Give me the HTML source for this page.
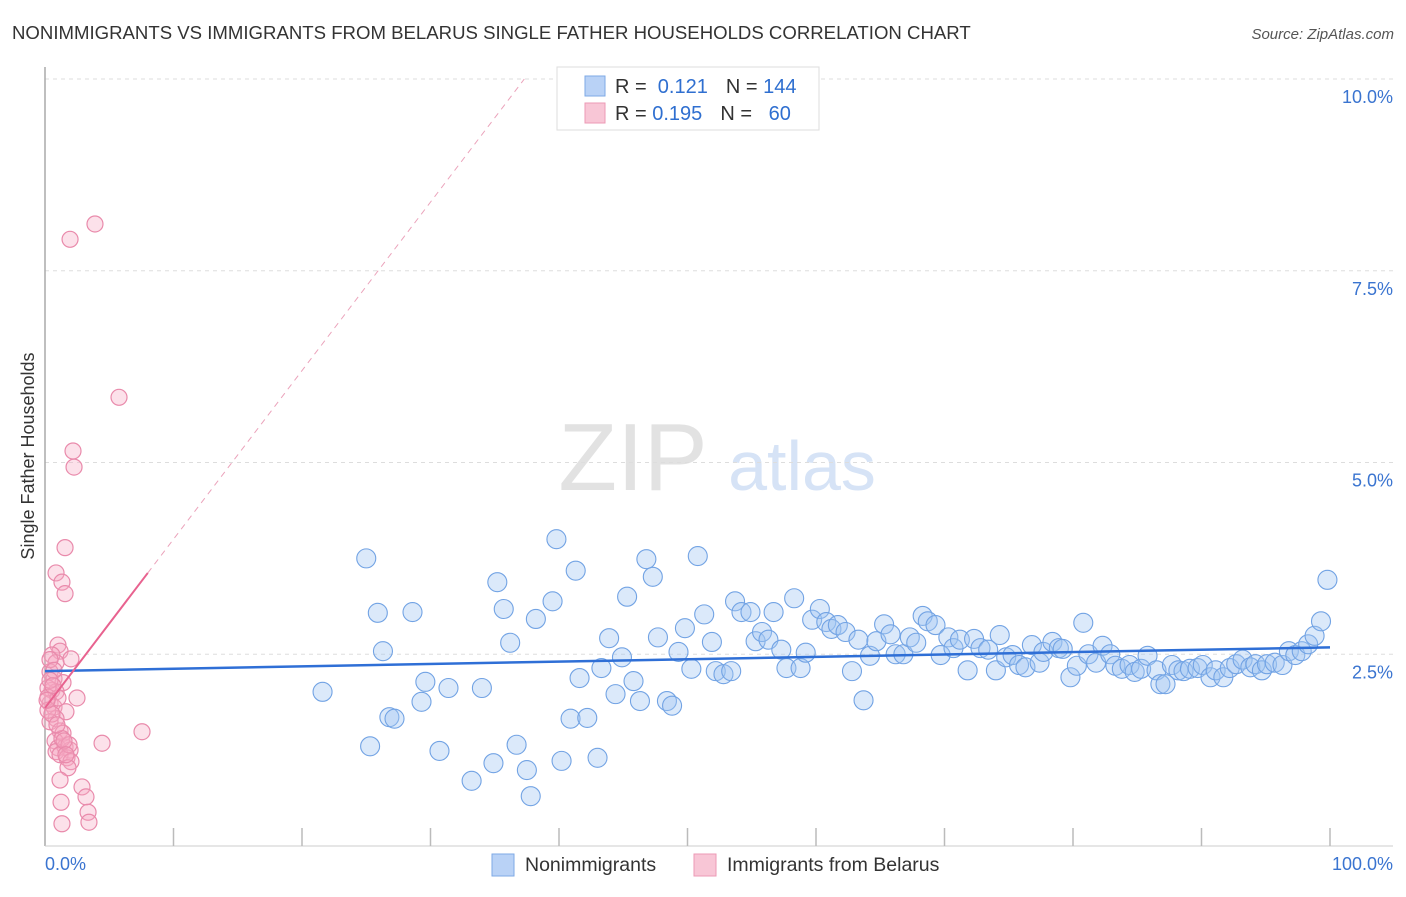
<!DOCTYPE html>
<html><head><meta charset="utf-8"><style>
body{margin:0;background:#fff;font-family:"Liberation Sans",sans-serif;}
svg text{font-family:"Liberation Sans",sans-serif;}
</style></head><body>
<svg id="chart" width="1406" height="892" xmlns="http://www.w3.org/2000/svg">
<text x="12" y="39" font-size="18.6" fill="#333">NONIMMIGRANTS VS IMMIGRANTS FROM BELARUS SINGLE FATHER HOUSEHOLDS CORRELATION CHART</text>
<text x="1394" y="39" font-size="15" fill="#555" text-anchor="end" font-style="italic">Source: ZipAtlas.com</text>
<text transform="translate(34,456) rotate(-90)" font-size="18" fill="#333" text-anchor="middle">Single Father Households</text>
<g>
<text x="633" y="490" font-size="96" font-family="Liberation Serif" fill="#e2e2e2" text-anchor="middle">ZIP</text>
<text x="802" y="490" font-size="70" fill="#d6e3f6" text-anchor="middle">atlas</text>
</g>
<g id="grid"></g>
<g id="axes"></g>
<g id="pts"></g>
<g id="trends"></g>
<g>
<rect x="557" y="67" width="262" height="63" fill="#fff" stroke="#ddd"/>
<rect x="585" y="76" width="20" height="20" fill="#b9d2f6" stroke="#7ea9e6"/>
<rect x="585" y="103" width="20" height="20" fill="#f8c6d6" stroke="#ec9ab5"/>
<text x="615" y="93" font-size="20" fill="#333">R = <tspan fill="#2f6fd0">&#160;0.121</tspan><tspan dx="18" fill="#333">N = </tspan><tspan fill="#2f6fd0">144</tspan></text>
<text x="615" y="120" font-size="20" fill="#333">R = <tspan fill="#2f6fd0">0.195</tspan><tspan dx="18" fill="#333">N = </tspan><tspan fill="#2f6fd0">&#160;&#160;60</tspan></text>
</g>
<g>
<rect x="492" y="854" width="22" height="22" fill="#b9d2f6" stroke="#7ea9e6"/>
<text x="525" y="871" font-size="19.5" fill="#333">Nonimmigrants</text>
<rect x="694" y="854" width="22" height="22" fill="#f8c6d6" stroke="#ec9ab5"/>
<text x="727" y="871" font-size="19.5" fill="#333">Immigrants from Belarus</text>
</g>
</svg>
<script>
const blueX=[21.6,25.0,25.3,25.9,26.3,26.8,27.2,28.6,29.3,29.6,30.7,31.4,33.2,34.0,34.9,35.2,35.7,36.2,36.7,37.5,37.8,38.2,39.5,39.8,40.2,40.9,41.3,41.6,42.2,43.0,43.3,43.9,44.4,44.9,45.3,45.8,46.3,46.8,47.3,47.7,48.4,48.8,49.3,49.8,50.3,50.8,51.3,51.9,52.2,52.8,53.4,53.7,54.2,54.9,55.3,55.8,56.3,56.7,57.3,57.7,58.3,58.8,59.2,59.7,60.3,60.8,61.2,61.7,62.3,62.8,63.3,63.7,64.2,64.7,65.3,65.8,66.2,66.8,67.3,67.8,68.3,68.7,69.3,69.7,70.3,70.7,71.2,71.8,72.3,72.8,73.4,74.0,74.3,74.8,75.3,75.8,76.3,76.8,77.4,77.7,78.4,78.9,79.2,79.8,80.3,80.8,81.2,81.8,82.3,82.9,83.3,83.8,84.4,84.8,85.3,85.8,86.5,86.8,87.2,87.7,88.2,88.6,89.1,89.7,90.1,90.7,91.1,91.7,92.2,92.7,93.2,93.8,94.2,94.7,95.1,95.7,96.3,96.8,97.3,97.8,98.3,98.8,99.3,99.8];
const blueY=[2.01,3.75,1.30,3.04,2.54,1.68,1.66,3.05,1.88,2.14,1.24,2.06,0.85,2.06,1.08,3.44,3.09,2.65,1.32,0.99,0.65,2.96,3.19,4.00,1.11,1.66,3.59,2.19,1.67,1.15,2.32,2.71,1.98,2.46,3.25,2.15,1.89,3.74,3.51,2.72,1.89,1.83,2.53,2.84,2.31,3.78,3.02,2.66,2.28,2.24,2.28,3.19,3.05,3.05,2.67,2.79,2.69,3.05,2.56,2.32,3.23,2.32,2.52,2.95,3.09,2.92,2.83,2.88,2.79,2.28,2.69,1.90,2.48,2.67,2.89,2.76,2.50,2.50,2.72,2.65,3.00,2.93,2.88,2.49,2.72,2.58,2.69,2.29,2.70,2.58,2.56,2.29,2.75,2.46,2.49,2.36,2.33,2.62,2.39,2.53,2.66,2.58,2.57,2.20,2.35,2.91,2.50,2.39,2.61,2.50,2.35,2.31,2.36,2.27,2.31,2.48,2.29,2.11,2.11,2.36,2.29,2.28,2.31,2.32,2.36,2.20,2.29,2.20,2.32,2.37,2.43,2.33,2.37,2.29,2.37,2.39,2.36,2.54,2.49,2.54,2.63,2.74,2.93,3.47];
const pinkX=[1.95,3.89,5.76,2.18,2.26,1.56,0.86,1.32,1.56,1.01,1.17,0.54,0.86,2.02,0.39,0.70,1.40,0.54,0.86,2.49,0.39,0.70,1.63,0.86,0.39,1.17,1.40,0.78,1.01,1.56,1.95,0.86,1.17,1.71,2.02,1.79,4.44,7.55,2.88,1.17,3.19,1.25,3.35,3.42,1.32,0.23,0.23,0.23,0.39,0.70,0.54,1.01,1.32,1.87,0.39,0.62,0.93,1.48,0.16,1.63];
const pinkY=[7.91,8.11,5.85,5.15,4.94,3.89,3.56,3.44,3.29,2.62,2.54,2.49,2.39,2.44,2.27,2.18,2.13,2.03,2.01,1.93,1.86,1.81,1.75,1.66,1.62,1.50,1.47,1.37,1.28,1.29,1.25,1.23,1.19,1.15,1.10,1.02,1.34,1.49,0.77,0.86,0.64,0.57,0.44,0.31,0.29,2.06,1.94,1.77,2.43,2.29,1.72,1.93,1.40,1.32,2.16,2.09,1.58,1.37,1.90,1.19];
const yTicks=[2.5,5.0,7.5,10.0];
const yTickLabels=["2.5%","5.0%","7.5%","10.0%"];
const xTicks=[10,20,30,40,50,60,70,80,90,100];
const blueTrend=[[0,2.28],[100,2.59]];
const pinkTrendSolid=[[0,1.80],[8.0,3.56]];
const pinkTrendDash=[[8.0,3.56],[37.3,10.0]];

const NS="http://www.w3.org/2000/svg";
const sx=v=>45+v/100*1285;
const sy=v=>846-v/10*767;
function mk(tag,attrs,parent){const e=document.createElementNS(NS,tag);for(const k in attrs)e.setAttribute(k,attrs[k]);parent.appendChild(e);return e;}
const grid=document.getElementById('grid'),axes=document.getElementById('axes'),pts=document.getElementById('pts'),tr=document.getElementById('trends');
yTicks.forEach((t,i)=>{
 const l=mk('line',{x1:45,x2:1393,y1:sy(t),y2:sy(t),stroke:'#ddd','stroke-dasharray':'4,4'},grid);
 
 
 const tx=mk('text',{x:1393,y:sy(t)+24,'font-size':18,fill:'#3a74d0','text-anchor':'end'},axes);
 tx.textContent=yTickLabels[i];
 
 
});
const ax=mk('line',{x1:45,x2:45,y1:67,y2:846,stroke:'#aaa','stroke-width':1.5},axes);


const bx=mk('line',{x1:45,x2:1393,y1:846,y2:846,stroke:'#ccc'},axes);


xTicks.forEach(t=>{
 const l=mk('line',{x1:sx(t),x2:sx(t),y1:828,y2:846,stroke:'#bbb','stroke-width':1.5},axes);
 
 
});
const x0=mk('text',{x:45,y:870,'font-size':18,fill:'#3a74d0'},axes);x0.textContent='0.0%';


const x1=mk('text',{x:1393,y:870,'font-size':18,fill:'#3a74d0','text-anchor':'end'},axes);x1.textContent='100.0%';


blueX.forEach((v,i)=>{
 const c=mk('circle',{cx:sx(v),cy:sy(blueY[i]),r:9.5,fill:'rgba(160,196,242,0.38)',stroke:'#72a3e4','stroke-width':1.1},pts);
 
 
});
pinkX.forEach((v,i)=>{
 const c=mk('circle',{cx:sx(v),cy:sy(pinkY[i]),r:8,fill:'rgba(245,170,195,0.35)',stroke:'#e98aab','stroke-width':1.2},pts);
 
 
});
const bt=mk('line',{x1:sx(blueTrend[0][0]),y1:sy(blueTrend[0][1]),x2:sx(blueTrend[1][0]),y2:sy(blueTrend[1][1]),stroke:'#2f6fd6','stroke-width':2.5},tr);


const pt=mk('line',{x1:sx(pinkTrendSolid[0][0]),y1:sy(pinkTrendSolid[0][1]),x2:sx(pinkTrendSolid[1][0]),y2:sy(pinkTrendSolid[1][1]),stroke:'#e8628f','stroke-width':2},tr);


const pd=mk('line',{x1:sx(pinkTrendDash[0][0]),y1:sy(pinkTrendDash[0][1]),x2:sx(pinkTrendDash[1][0]),y2:sy(pinkTrendDash[1][1]),stroke:'#eba3bb','stroke-width':1,'stroke-dasharray':'6,5'},tr);


</script>
</body></html>
